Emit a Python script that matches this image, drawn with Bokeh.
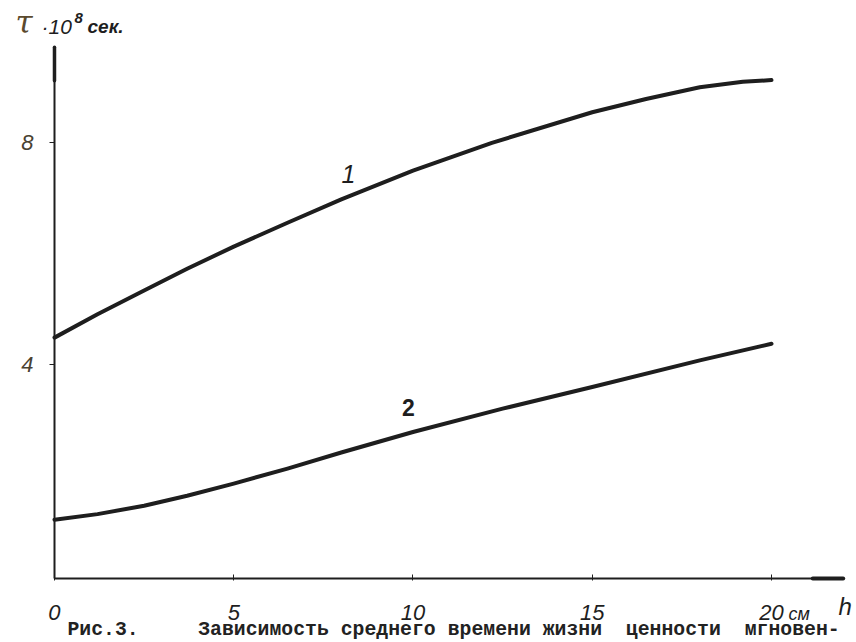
from bokeh.plotting import figure
from bokeh.models import Range1d, Label, FixedTicker, Arrow, LinearAxis
from bokeh.embed import file_html
from bokeh.resources import INLINE

# ---- data ----
h1 = [0, 1.2, 2.5, 3.7, 5, 6.5, 8, 10, 12.2, 15, 16.5, 18, 19.2, 20]
tau1 = [4.49, 4.91, 5.34, 5.73, 6.13, 6.56, 6.98, 7.50, 8.00, 8.55, 8.79, 9.00, 9.10, 9.13]
h2 = [0, 1.2, 2.5, 3.7, 5, 6.5, 8, 10, 12.5, 15, 18, 20]
tau2 = [1.21, 1.31, 1.46, 1.64, 1.86, 2.13, 2.42, 2.79, 3.21, 3.60, 4.08, 4.38]
x_ticks = [0, 5, 10, 15, 20]
x_tick_labels = {0: "0", 5: "5", 10: "10", 15: "15", 20: "20"}
y_ticks = [4, 8]
curve_labels = ["1", "2"]
caption_words = ["Рис.3.", "Зависимость", "среднего", "времени", "жизни", "ценности", "мгновен-"]
caption_cols = [0, 11, 23, 32, 40, 47, 57]   # typewriter column of each word

W, H = 856, 642
XMIN, XMAX = -1.506, 22.371
YMIN, YMAX = -1.003, 10.564

p = figure(width=W, height=H, output_backend="svg", toolbar_location=None,
           x_range=Range1d(XMIN, XMAX), y_range=Range1d(YMIN, YMAX),
           x_axis_location=None, y_axis_location=None, min_border=0)
p.outline_line_color = None
p.grid.visible = False
p.background_fill_color = "white"
p.border_fill_color = "white"

ink = "#1e1e1e"
p.line(h1, tau1, line_width=4, line_color=ink, line_cap="round", line_join="round")
p.line(h2, tau2, line_width=4, line_color=ink, line_cap="round", line_join="round")

# axes
xa = LinearAxis(fixed_location=0.15, bounds=(0, 22.0))
xa.ticker = FixedTicker(ticks=x_ticks)
xa.major_label_overrides = x_tick_labels
xa.axis_line_width = 2
xa.axis_line_color = ink
xa.major_tick_in = 4
xa.major_tick_out = 2
xa.major_tick_line_color = ink
xa.minor_tick_line_color = None
xa.major_label_standoff = 24
xa.major_label_text_font = "Liberation Sans"
xa.major_label_text_font_style = "italic"
xa.major_label_text_font_size = "22px"
xa.major_label_text_color = ink
p.add_layout(xa, "below")

ya = LinearAxis(fixed_location=0, bounds=(0.15, 9.72))
ya.ticker = FixedTicker(ticks=y_ticks)
ya.axis_line_width = 2
ya.axis_line_color = ink
ya.major_tick_in = 0
ya.major_tick_out = 5
ya.major_tick_line_color = ink
ya.minor_tick_line_color = None
ya.major_label_standoff = 16
ya.major_label_text_font = "Liberation Sans"
ya.major_label_text_font_style = "italic"
ya.major_label_text_font_size = "22px"
ya.major_label_text_color = "#4a4232"
p.add_layout(ya, "left")

# hand-drawn thickened axis ends (arrow shafts)
p.add_layout(Arrow(end=None, x_start=21.15, y_start=0.15, x_end=22.0, y_end=0.15,
                   line_width=4, line_color=ink, line_cap="round"))
p.add_layout(Arrow(end=None, x_start=0, y_start=9.12, x_end=0, y_end=9.72,
                   line_width=3.5, line_color=ink, line_cap="round"))

def dx(xp):
    return XMIN + xp / W * (XMAX - XMIN)

def dy(yp):
    return YMAX - yp / H * (YMAX - YMIN)

def lab(xp, yp, t, size, style="normal", font="Liberation Sans", color=ink,
        align="left", base="middle"):
    p.add_layout(Label(x=dx(xp), y=dy(yp), text=t, text_font_size=size,
                       text_font_style=style, text_font=font, text_color=color,
                       text_align=align, text_baseline=base))

# y-axis title
lab(15, 21, "τ", "31px", "italic", "DejaVu Serif", "#5b4a2e")
lab(41, 25.5, "·10", "21px", "italic")
lab(74, 17.5, "8", "15px", "bold italic")
lab(87, 26, "сек.", "19px", "bold italic")

# curve labels
lab(348, 173, curve_labels[0], "25px", "italic", align="center")
lab(408, 406.5, curve_labels[1], "23px", "bold", align="center")

# x units
lab(788, 613, "см", "18px", "italic")
lab(838, 606, "h", "24px", "italic")

# caption (typewriter line)
for word, col in zip(caption_words, caption_cols):
    lab(67 + 11.88 * col, 629.5, word, "19.8px", "bold", "Liberation Mono", "#222222")

open("out.html", "w").write(file_html(p, INLINE))
